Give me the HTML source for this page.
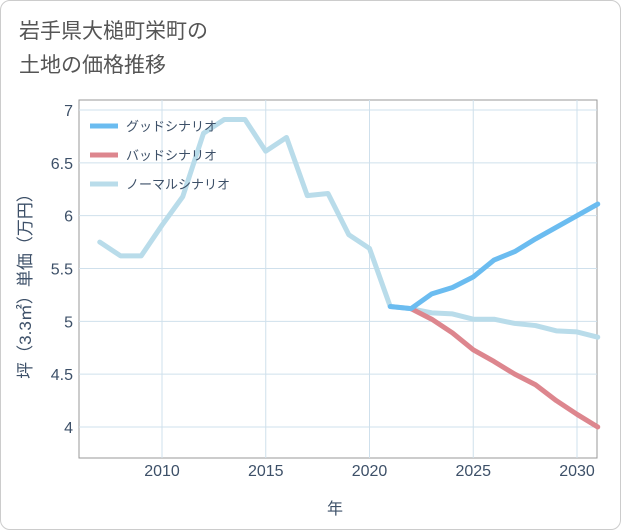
<!DOCTYPE html>
<html><head><meta charset="utf-8">
<style>
body{margin:0;background:#fff;}
#wrap{position:relative;width:619px;height:528px;border:1px solid #ccc;border-radius:10px;background:#fff;overflow:hidden;font-family:"Liberation Sans","Noto Sans CJK JP",sans-serif;}
#title{position:absolute;left:18px;top:14px;font-size:21px;line-height:34px;color:#555;}
svg text{font-family:"Liberation Sans","Noto Sans CJK JP",sans-serif;}
</style></head><body>
<div id="wrap">
<div id="title">岩手県大槌町栄町の<br>土地の価格推移</div>
<svg id="chart" width="621" height="530" style="position:absolute;left:-1px;top:-1px"></svg>
</div>
<script>
const years=[2007,2008,2009,2010,2011,2012,2013,2014,2015,2016,2017,2018,2019,2020,2021,2022,2023,2024,2025,2026,2027,2028,2029,2030,2031];
const normal=[5.75,5.62,5.62,5.91,6.18,6.78,6.91,6.91,6.61,6.74,6.19,6.21,5.82,5.69,5.14,5.12,5.08,5.07,5.02,5.02,4.98,4.96,4.91,4.90,4.85];
const goodYears=[2021,2022,2023,2024,2025,2026,2027,2028,2029,2030,2031];
const good=[5.14,5.12,5.26,5.32,5.42,5.58,5.66,5.78,5.89,6.00,6.11];
const badYears=[2022,2023,2024,2025,2026,2027,2028,2029,2030,2031];
const bad=[5.12,5.02,4.89,4.73,4.62,4.50,4.40,4.25,4.12,4.00];
const xTicks=[2010,2015,2020,2025,2030];
const yTicks=[4,4.5,5,5.5,6,6.5,7];
const yLabels=["4","4.5","5","5.5","6","6.5","7"];
const L=79,R=597,T=100,B=458;
const TC='#3d5068';
const x=v=>162+(v-2010)*20.75;
const y=v=>427-(v-4)*105.67;
const s=document.getElementById('chart');
const NS='http://www.w3.org/2000/svg';
function mk(t,a){const e=document.createElementNS(NS,t);for(const k in a)e.setAttribute(k,a[k]);s.appendChild(e);return e;}
let e=mk('rect',{x:L,y:T,width:R-L,height:B-T,fill:'#fff',stroke:'#999','stroke-width':1});


xTicks.forEach(t=>{
 let g=mk('line',{x1:x(t),x2:x(t),y1:T,y2:B,stroke:'#cfe0ec'});
 
 
 let l=mk('text',{x:x(t),y:476,'text-anchor':'middle','font-size':16,fill:TC});l.textContent=t;
 
 
});
yTicks.forEach((t,i)=>{
 let g=mk('line',{x1:L,x2:R,y1:y(t),y2:y(t),stroke:'#cfe0ec'});
 
 
 let l=mk('text',{x:73,y:y(t)+6,'text-anchor':'end','font-size':16,fill:TC});l.textContent=yLabels[i];
 
 
});
function line(xs,vs,c,n){let p=mk('polyline',{points:xs.map((v,i)=>x(v)+','+y(vs[i])).join(' '),fill:'none',stroke:c,'stroke-width':5,'stroke-linejoin':'round','stroke-linecap':'round'});
 
 }
line(years,normal,'#b9dcea','normal-scenario-line');
line(badYears,bad,'#dd868e','bad-scenario-line');
line(goodYears,good,'#6bbcf0','good-scenario-line');
const legend=[['グッドシナリオ','#6bbcf0'],['バッドシナリオ','#dd868e'],['ノーマルシナリオ','#b9dcea']];
legend.forEach((d,i)=>{
 let ly=126+i*29;
 let m=mk('line',{x1:90,x2:118,y1:ly,y2:ly,stroke:d[1],'stroke-width':5});
 
 
 let t=mk('text',{x:126,y:ly+5,'font-size':13,fill:TC});t.textContent=d[0];
 
 
});
let xt=mk('text',{x:335,y:514,'text-anchor':'middle','font-size':16,fill:TC});xt.textContent='年';


let yt=mk('text',{x:0,y:0,'text-anchor':'middle','font-size':17,fill:TC,transform:'translate(31,282) rotate(-90)'});yt.textContent='坪（3.3㎡）単価（万円）';


</script>
</body></html>
